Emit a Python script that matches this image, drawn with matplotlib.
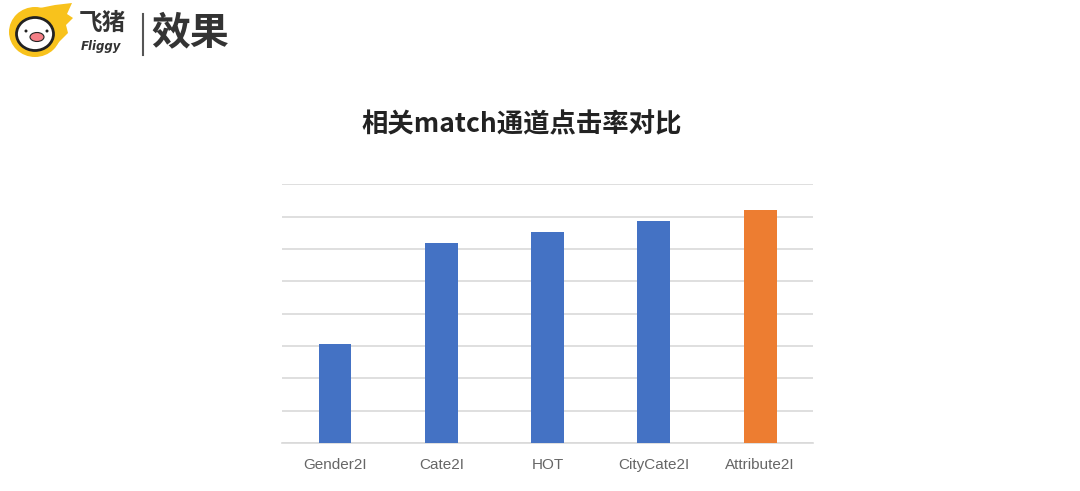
import numpy as np
import matplotlib.pyplot as plt
from matplotlib.patches import Ellipse, Polygon, Circle

plt.rcParams['font.family'] = ['Noto Sans CJK SC', 'DejaVu Sans']

# 데이터
channels = ['Gender2I', 'Cate2I', 'HOT', 'CityCate2I', 'Attribute2I']
ctr = [3.06, 6.17, 6.51, 6.85, 7.19]
colors = ['#4472C4', '#4472C4', '#4472C4', '#4472C4', '#ED7D31']
title = '相关match通道点击率对比'


def draw_header(fig):
    """Logo + page title in pixel coordinates."""
    ov = fig.add_axes([0, 0, 1, 1], zorder=-1)
    ov.set_xlim(0, 1080)
    ov.set_ylim(491, 0)
    ov.axis('off')

    # yellow ring + wing
    ov.add_patch(Ellipse((35, 32), 52, 50, fc='#F8C21C', ec='none'))
    wing = Polygon([(40, 8), (55, 5), (72, 3), (67, 14), (73, 18), (66, 25),
                    (68, 33), (58, 43), (50, 30)],
                   closed=True, fc='#F8C21C', ec='none')
    ov.add_patch(wing)
    ov.add_patch(Ellipse((35, 34), 37, 33, fc='white', ec='#222222', lw=2.0))
    ov.add_patch(Ellipse((37, 37), 14, 9, fc='#F47F86', ec='#222222', lw=0.8))
    ov.add_patch(Circle((26, 31), 1.5, fc='#222222'))
    ov.add_patch(Circle((47, 31), 1.5, fc='#222222'))

    ov.text(102, 23, '飞猪', fontsize=17, fontweight='bold', color='#333333',
            ha='center', va='center')
    ov.text(101, 46, 'Fliggy', fontsize=8.5, fontweight='bold', style='italic',
            color='#333333', ha='center', va='center', family='DejaVu Sans')
    ov.plot([143, 143], [14, 55], color='#555555', lw=1.5)
    ov.text(151, 33, '效果', fontsize=28, fontweight='semibold', color='#333333',
            ha='left', va='center')


def main():
    fig = plt.figure(figsize=(10.8, 4.91), dpi=100)
    draw_header(fig)

    ax = fig.add_axes([0.261, 0.0978, 0.492, 0.527])
    x = np.arange(len(channels))
    ax.bar(x, ctr, width=0.31, color=colors, zorder=3)

    ax.set_xlim(-0.5, len(channels) - 0.5)
    ax.set_ylim(0, 8)
    ax.set_yticks(np.arange(0, 9, 1))
    ax.yaxis.grid(True, color='#D9D9D9', lw=1.2, zorder=0)
    ax.tick_params(axis='y', left=False, labelleft=False)
    ax.set_xticks(x)
    ax.set_xticklabels(channels, color='#666666', fontsize=11,
                       family='Liberation Sans')
    ax.tick_params(axis='x', length=0, pad=11)
    for s in ['top', 'right', 'left']:
        ax.spines[s].set_visible(False)
    ax.spines['bottom'].set_color('#D9D9D9')
    ax.spines['bottom'].set_linewidth(1.2)

    fig.text(0.483, 1 - 125 / 491, title, fontsize=19, fontweight='bold',
             color='#222222', ha='center', va='center')

    fig.savefig('out.png', dpi=100)


if __name__ == "__main__":
    main()
